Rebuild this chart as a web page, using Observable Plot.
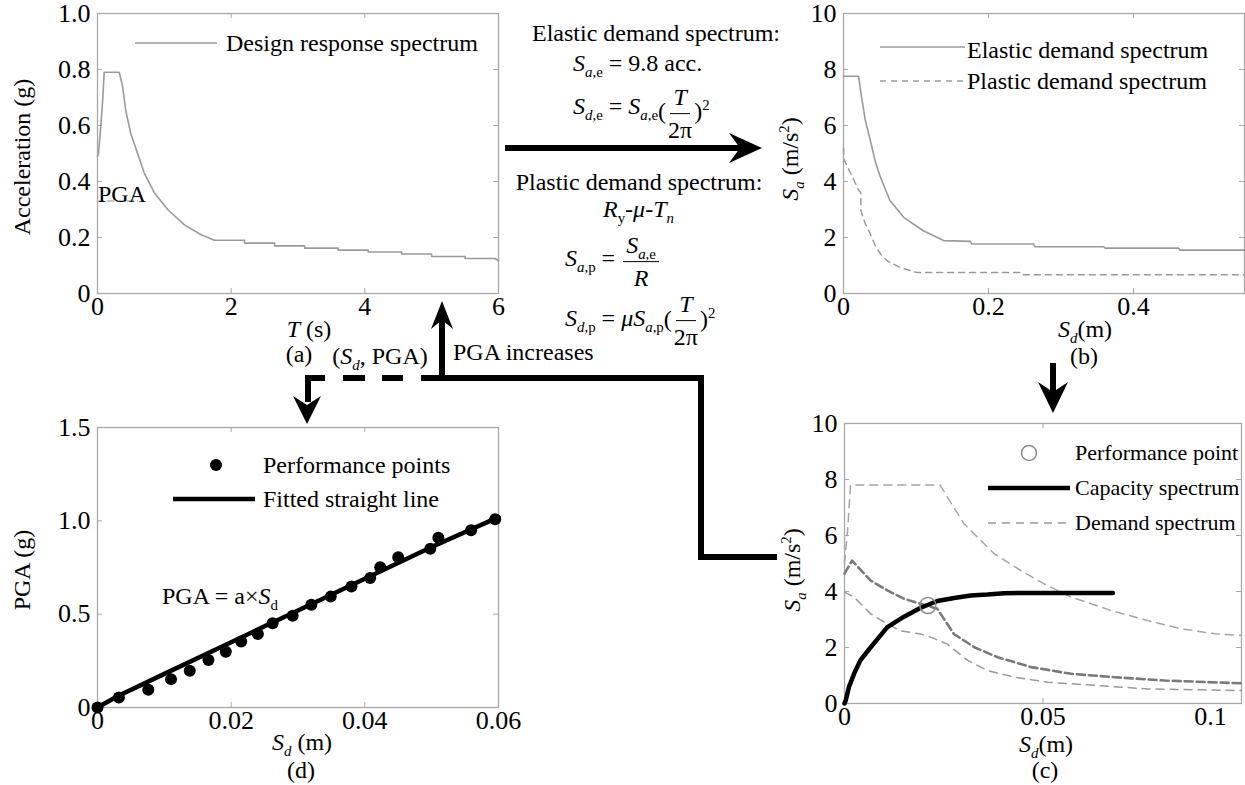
<!DOCTYPE html>
<html><head><meta charset="utf-8">
<script src="https://cdn.jsdelivr.net/npm/d3@7"></script>
<script src="https://cdn.jsdelivr.net/npm/@observablehq/plot@0.6"></script>
<style>
body{margin:0;background:#fff;font-family:'Liberation Serif',serif;}
#fig{position:relative;width:1245px;height:785px;overflow:hidden;font-family:'Liberation Serif',serif;color:#000;background:#fff;}
.p{position:absolute;}
.t{position:absolute;white-space:nowrap;font-size:24px;line-height:1;font-family:'Liberation Serif',serif;}
.c{transform:translate(-50%,-50%);}
.l{transform:translateY(-50%);}
.r{transform:translate(-50%,-50%) rotate(-90deg);}
sub,sup{font-size:62%;vertical-align:baseline;position:relative;line-height:0;}
sub{top:0.38em;}
sup{top:-0.6em;}
.eq{display:flex;align-items:center;}
.eq .m{position:relative;}
.frac{display:inline-flex;flex-direction:column;align-items:center;margin:0 2px;}
.frac .n{border-bottom:1.4px solid #000;padding:0 3px 3px;line-height:1.1}
.frac .d{padding-top:3px;line-height:1.1}
svg#conn{position:absolute;left:0;top:0;}
</style></head>
<body>
<div id="fig">
  <div id="pa" class="p" style="left:0;top:0"></div>
  <div id="pb" class="p" style="left:790px;top:0"></div>
  <div id="pd" class="p" style="left:0;top:400px"></div>
  <div id="pc" class="p" style="left:790px;top:400px"></div>
</div>
<script>
// ---------------- DATA ----------------
// (a) design response spectrum: period T (s), acceleration (g)
const designT   = [0, 0.015, 0.05, 0.08, 0.1, 0.325, 0.375, 0.425, 0.5, 0.6, 0.7, 0.85, 1.05, 1.3, 1.55, 1.75, 2.2, 2.2, 2.65, 2.65, 3.1, 3.1, 3.6, 3.6, 4.05, 4.05, 4.55, 4.55, 5.0, 5.0, 5.5, 5.5, 5.95, 6.0];
const designAcc = [0.49, 0.5, 0.6, 0.7, 0.79, 0.79, 0.74, 0.65, 0.57, 0.5, 0.43, 0.36, 0.30, 0.245, 0.21, 0.19, 0.19, 0.18, 0.18, 0.17, 0.17, 0.162, 0.162, 0.155, 0.155, 0.148, 0.148, 0.141, 0.141, 0.132, 0.132, 0.125, 0.125, 0.117];
const pgaT = [0, 0.6];
const pgaAcc = [0.33, 0.33];

// (b) elastic & plastic demand spectra: Sd (m), Sa (m/s2)
const elasticSd = [0, 0.0207, 0.025, 0.03, 0.037, 0.044, 0.051, 0.064, 0.083, 0.11, 0.138, 0.175, 0.177, 0.262, 0.264, 0.359, 0.361, 0.462, 0.464, 0.553];
const elasticSa = [7.76, 7.76, 7.0, 6.2, 5.47, 4.7, 4.15, 3.32, 2.72, 2.24, 1.89, 1.86, 1.77, 1.77, 1.67, 1.67, 1.62, 1.62, 1.55, 1.55];
const plasticSd = [0, 0.0005, 0.0207, 0.0239, 0.0239, 0.03, 0.037, 0.044, 0.051, 0.06, 0.078, 0.101, 0.244, 0.246, 0.553];
const plasticSa = [5.2, 4.8, 3.7, 3.6, 2.96, 2.5, 2.12, 1.7, 1.41, 1.17, 0.93, 0.75, 0.75, 0.67, 0.67];

// (c) capacity spectrum and demand spectra
const capSd = [0, 0.0003, 0.0011, 0.0024, 0.004, 0.0061, 0.0083, 0.0108, 0.015, 0.0192, 0.0234, 0.0276, 0.0318, 0.036, 0.0402, 0.0444, 0.0676];
const capSa = [0, 0.1, 0.58, 1.06, 1.54, 1.92, 2.3, 2.73, 3.1, 3.42, 3.66, 3.77, 3.86, 3.89, 3.94, 3.95, 3.95];
const dem1Sd = [0, 0.0008, 0.0015, 0.0241, 0.0259, 0.0301, 0.0377, 0.0444, 0.0503, 0.0571, 0.0672, 0.0764, 0.0848, 0.0933, 0.1];
const dem1Sa = [5.0, 6.2, 7.8, 7.8, 7.37, 6.42, 5.35, 4.75, 4.27, 3.8, 3.32, 2.96, 2.67, 2.49, 2.43];
const dem2Sd = [0, 0.0019, 0.0066, 0.0108, 0.015, 0.0192, 0.0234, 0.0242, 0.0276, 0.0327, 0.0386, 0.047, 0.0571, 0.068, 0.0807, 0.1];
const dem2Sa = [4.64, 5.1, 4.39, 4.04, 3.74, 3.56, 3.38, 3.2, 2.48, 2.01, 1.65, 1.3, 1.06, 0.94, 0.82, 0.72];
const dem3Sd = [0, 0.0024, 0.0066, 0.0108, 0.0141, 0.0192, 0.0217, 0.0259, 0.031, 0.036, 0.0428, 0.0512, 0.0638, 0.0764, 0.1];
const dem3Sa = [3.98, 3.8, 3.2, 2.84, 2.6, 2.48, 2.37, 2.12, 1.54, 1.18, 0.94, 0.76, 0.64, 0.52, 0.46];
const perfSd = [0.021];
const perfSa = [3.5];

// (d) performance points and fitted line: Sd (m), PGA (g)
const ppSd  = [0, 0.0032, 0.0076, 0.011, 0.0138, 0.0166, 0.0192, 0.0215, 0.024, 0.0262, 0.0292, 0.032, 0.0349, 0.038, 0.0408, 0.0423, 0.045, 0.0498, 0.051, 0.0559, 0.0595];
const ppPGA = [0, 0.054, 0.095, 0.152, 0.197, 0.254, 0.299, 0.353, 0.394, 0.451, 0.492, 0.551, 0.594, 0.648, 0.694, 0.752, 0.805, 0.85, 0.909, 0.949, 1.008];
const fitSd  = [0, 0.003, 0.01, 0.02, 0.03, 0.04, 0.05, 0.06];
const fitPGA = [0, 0.06, 0.18, 0.35, 0.52, 0.69, 0.86, 1.02];

// tick values
const aTicksX = [0, 2, 4, 6], aTicksY = [0, 0.2, 0.4, 0.6, 0.8, 1.0];
const bTicksX = [0, 0.2, 0.4], bTicksY = [0, 2, 4, 6, 8, 10];
const cTicksX = [0, 0.05, 0.1], cTicksY = [0, 2, 4, 6, 8, 10];
const dTicksX = [0, 0.02, 0.04, 0.06], dTicksY = [0, 0.5, 1.0, 1.5];

const zip = (xs, ys) => xs.map((x, i) => ({x, y: ys[i]}));

// ---------------- PANELS ----------------
const FONT = "'Liberation Serif', serif";
const FRAME = "#a8a8a8";
const GRAY = "#9a9a9a";

function panel({el, width, height, mL, mR, mT, mB, xDom, yDom, xTicks, yTicks, xLabelTicks, fx, fy, marks, extraAxes = []}) {
  const fh = height - mT - mB, fw = width - mL - mR;
  const chart = Plot.plot({
    width, height, marginLeft: mL, marginRight: mR, marginTop: mT, marginBottom: mB,
    style: {fontFamily: FONT, fontSize: "26px", color: "#000", background: "transparent", overflow: "visible"},
    x: {domain: xDom}, y: {domain: yDom},
    marks: [
      Plot.ruleX(xTicks, {x: d => d, stroke: FRAME, insetTop: fh - 5}),
      Plot.ruleX(xTicks, {x: d => d, stroke: FRAME, insetBottom: fh - 5}),
      Plot.ruleY(yTicks, {y: d => d, stroke: FRAME, insetRight: fw - 5}),
      Plot.ruleY(yTicks, {y: d => d, stroke: FRAME, insetLeft: fw - 5}),
      Plot.frame({stroke: FRAME, strokeWidth: 1.3}),
      Plot.axisX({ticks: xLabelTicks || xTicks, tickSize: 0, tickPadding: 3, tickFormat: fx, label: null}),
      Plot.axisY({ticks: yTicks, tickSize: 0, tickPadding: 7, tickFormat: fy, label: null}),
      ...extraAxes,
      ...marks
    ]
  });
  document.getElementById(el).appendChild(chart);
}
const f1 = d => d === 0 ? "0" : d.toFixed(1);
const fAuto = d => d === 0 ? "0" : String(d);

panel({el: "pa", width: 510, height: 370, mL: 97, mR: 12, mT: 13, mB: 77,
  xDom: [0, 6], yDom: [0, 1], xTicks: aTicksX, yTicks: aTicksY, fx: fAuto, fy: f1,
  marks: [
    Plot.line(zip(pgaT, pgaAcc), {x: "x", y: "y", stroke: "#b5b5b5", strokeWidth: 1.5, strokeDasharray: "6,4"}),
    Plot.line(zip(designT, designAcc), {x: "x", y: "y", stroke: GRAY, strokeWidth: 1.6})
  ]});

panel({el: "pb", width: 455, height: 370, mL: 53, mR: 1, mT: 13, mB: 77,
  xDom: [0, 0.553], yDom: [0, 10], xTicks: bTicksX, yTicks: bTicksY, fx: fAuto, fy: fAuto,
  marks: [
    Plot.line(zip(plasticSd, plasticSa), {x: "x", y: "y", stroke: GRAY, strokeWidth: 1.5, strokeDasharray: "6,5"}),
    Plot.line(zip(elasticSd, elasticSa), {x: "x", y: "y", stroke: GRAY, strokeWidth: 1.6})
  ]});

panel({el: "pd", width: 510, height: 385, mL: 97, mR: 12, mT: 27, mB: 78,
  xDom: [0, 0.06], yDom: [0, 1.5], xTicks: dTicksX, yTicks: dTicksY, fx: fAuto, fy: f1,
  marks: [
    Plot.line(zip(fitSd, fitPGA), {x: "x", y: "y", stroke: "#000", strokeWidth: 4.5}),
    Plot.dot(zip(ppSd, ppPGA), {x: "x", y: "y", r: 6, fill: "#000"})
  ]});

panel({el: "pc", width: 455, height: 385, mL: 54, mR: 4, mT: 23, mB: 82,
  xDom: [0, 0.1], yDom: [0, 10], xTicks: cTicksX, yTicks: cTicksY, xLabelTicks: [0, 0.05], fx: fAuto, fy: fAuto,
  extraAxes: [Plot.axisX({ticks: [0.1], tickSize: 0, tickPadding: 3, tickFormat: fAuto, label: null, dx: -31})],
  marks: [
    Plot.line(zip(dem1Sd, dem1Sa), {x: "x", y: "y", stroke: "#a5a5a5", strokeWidth: 1.5, strokeDasharray: "8,6"}),
    Plot.line(zip(dem3Sd, dem3Sa), {x: "x", y: "y", stroke: "#999", strokeWidth: 1.5, strokeDasharray: "8,6"}),
    Plot.line(zip(dem2Sd, dem2Sa), {x: "x", y: "y", stroke: "#7a7a7a", strokeWidth: 2.6, strokeDasharray: "8,4"}),
    Plot.line(zip(capSd, capSa), {x: "x", y: "y", stroke: "#000", strokeWidth: 4.5}),
    Plot.dot(zip(perfSd, perfSa), {x: "x", y: "y", r: 8, stroke: "#8a8a8a", strokeWidth: 1.5, fill: "none"})
  ]});

// ---------------- CONNECTORS, LEGEND SAMPLES ----------------
const NS = "http://www.w3.org/2000/svg";
const fig = document.getElementById("fig");
const svg = document.createElementNS(NS, "svg");
svg.setAttribute("id", "conn"); svg.setAttribute("width", 1245); svg.setAttribute("height", 785);
svg.innerHTML = `
  <g fill="none" stroke="#000" stroke-width="6" stroke-linejoin="miter" stroke-linecap="butt">
    <path d="M505,148 H742"/>
    <path d="M442,380 V320"/>
    <path d="M439,378 H701 V557 H777"/>
    <path d="M443,378 H421 M403,378 H382 M365,378 H343 M325,378 H308 V402"/>
    <path d="M1053,363 V392"/>
  </g>
  <g fill="#000" stroke="none">
    <path d="M762,148 L729,133 L740,148 L729,163 Z"/>
    <path d="M442,301 L431,329 L442,320 L453,329 Z"/>
    <path d="M307,424 L293,396 L307,405 L321,396 Z"/>
    <path d="M1053,413 L1038,382 L1053,392 L1068,382 Z"/>
  </g>
  <g fill="none">
    <line x1="135" y1="43" x2="217" y2="43" stroke="${GRAY}" stroke-width="1.6"/>
    <line x1="880" y1="47" x2="965" y2="47" stroke="${GRAY}" stroke-width="1.6"/>
    <line x1="880" y1="81" x2="965" y2="81" stroke="${GRAY}" stroke-width="1.5" stroke-dasharray="6,5"/>
    <circle cx="216" cy="465" r="6" fill="#000"/>
    <line x1="173" y1="499" x2="255" y2="499" stroke="#000" stroke-width="4.5"/>
    <circle cx="1029" cy="453" r="7.5" stroke="#8a8a8a" stroke-width="1.5"/>
    <line x1="988" y1="488" x2="1070" y2="488" stroke="#000" stroke-width="4.5"/>
    <line x1="988" y1="523" x2="1070" y2="523" stroke="#999" stroke-width="1.5" stroke-dasharray="8,6"/>
  </g>`;
fig.appendChild(svg);

// ---------------- TEXT ----------------
const texts = [
  // legends
  ["l", 226, 43, "Design response spectrum"],
  ["l", 967, 50, "Elastic demand spectrum"],
  ["l", 967, 81, "Plastic demand spectrum"],
  ["l", 263, 465, "Performance points"],
  ["l", 263, 499, "Fitted straight line"],
  ["l", 1075, 453, "Performance point", 22],
  ["l", 1075, 488, "Capacity spectrum", 22],
  ["l", 1075, 523, "Demand spectrum", 22],
  ["l", 98, 194, "PGA"],
  ["l", 162, 596, "PGA = a×<i>S</i><sub>d</sub>"],
  // axis titles
  ["r", 22, 157, "Acceleration (g)"],
  ["c", 309, 329, "<i>T</i> (s)"],
  ["c", 299, 354, "(a)"],
  ["r", 790, 159, "<i>S<sub>a</sub></i> (m/s<sup>2</sup>)"],
  ["c", 1085, 329, "<i>S<sub>d</sub></i>(m)"],
  ["c", 1084, 356, "(b)"],
  ["r", 22, 570, "PGA (g)"],
  ["c", 302, 742, "<i>S<sub>d</sub></i> (m)"],
  ["c", 301, 770, "(d)"],
  ["r", 792, 570, "<i>S<sub>a</sub></i> (m/s<sup>2</sup>)"],
  ["c", 1046, 744, "<i>S<sub>d</sub></i>(m)"],
  ["c", 1045, 770, "(c)"],
  ["c", 380, 356, "(<i>S<sub>d</sub></i>, PGA)"],
  ["l", 453, 352, "PGA increases"],
  // equations
  ["c", 656, 33, "Elastic demand spectrum:"],
  ["l", 573, 63, "<i>S</i><sub><i>a</i>,e</sub> = 9.8 acc."],
  ["c", 639, 182, "Plastic demand spectrum:"],
  ["l", 603, 209, "<i>R</i><sub>y</sub>-<i>μ</i>-<i>T<sub>n</sub></i>"],
];
const FR = `<span class="frac"><span class="n"><i>T</i></span><span class="d">2π</span></span>`;
const eqs = [
  [573, 114, `<span class="m" style="top:-8px"><i>S</i><sub><i>d</i>,e</sub> = <i>S</i><sub><i>a</i>,e</sub></span><span class="m" style="top:-3px">(</span>${FR}<span class="m" style="top:-3px">)<sup>2</sup></span>`],
  [565, 262, `<span class="m" style="top:-4px"><i>S</i><sub><i>a</i>,p</sub> =&nbsp;</span><span class="frac"><span class="n"><i>S</i><sub><i>a</i>,e</sub></span><span class="d"><i>R</i></span></span>`],
  [565, 321, `<span class="m" style="top:-3px"><i>S</i><sub><i>d</i>,p</sub> = <i>μS</i><sub><i>a</i>,p</sub></span><span class="m" style="top:-2px">(</span>${FR}<span class="m" style="top:-2px">)<sup>2</sup></span>`],
];
for (const [cls, x, y, html, fs] of texts) {
  const d = document.createElement("div");
  d.className = "t " + cls;
  d.style.left = x + "px"; d.style.top = y + "px";
  if (fs) d.style.fontSize = fs + "px";
  d.innerHTML = html;
  fig.appendChild(d);
}
for (const [x, y, html] of eqs) {
  const d = document.createElement("div");
  d.className = "t l eq";
  d.style.left = x + "px"; d.style.top = y + "px";
  d.innerHTML = html;
  fig.appendChild(d);
}
</script>
</body></html>
